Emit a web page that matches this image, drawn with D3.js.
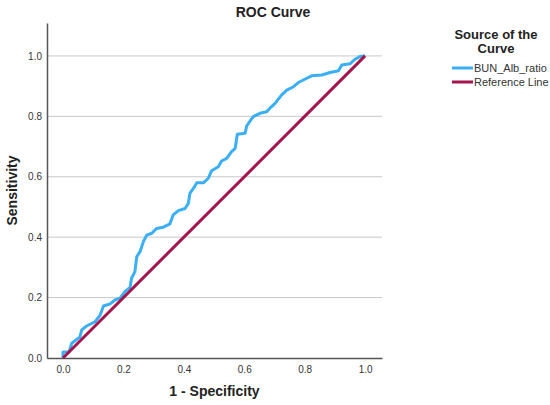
<!DOCTYPE html>
<html>
<head>
  <meta charset="utf-8">
  <title>ROC Curve</title>
  <script src="https://d3js.org/d3.v7.min.js"></script>
  <style>
    body { margin: 0; background: white; }
    svg { display: block; font-family: "Liberation Sans", Arial, sans-serif; }
    .tick text { fill: #333; font-size: 10px; }
  </style>
</head>
<body>
<div id="container"></div>
<script>
  // ROC points (1 - specificity, sensitivity)
  var fpr = [0, 0, 0.02, 0.029, 0.056, 0.062, 0.078, 0.106, 0.123, 0.134, 0.156, 0.172,
    0.189, 0.205, 0.222, 0.227, 0.238, 0.244, 0.255, 0.266, 0.277, 0.294, 0.31, 0.332,
    0.354, 0.365, 0.382, 0.404, 0.415, 0.42, 0.432, 0.443, 0.465, 0.481, 0.492, 0.514,
    0.525, 0.542, 0.558, 0.57, 0.577, 0.603, 0.608, 0.622, 0.63, 0.652, 0.674, 0.685,
    0.702, 0.724, 0.741, 0.763, 0.779, 0.807, 0.823, 0.857, 0.884, 0.912, 0.923, 0.95,
    0.967, 0.983, 0.995, 1];
  var tpr = [0, 0.02, 0.02, 0.049, 0.07, 0.093, 0.106, 0.12, 0.142, 0.172, 0.179, 0.192,
    0.198, 0.22, 0.234, 0.264, 0.286, 0.335, 0.352, 0.385, 0.407, 0.413, 0.429, 0.433,
    0.444, 0.474, 0.488, 0.495, 0.512, 0.545, 0.562, 0.58, 0.58, 0.595, 0.62, 0.633,
    0.652, 0.661, 0.683, 0.694, 0.741, 0.744, 0.768, 0.788, 0.799, 0.81, 0.815, 0.827,
    0.843, 0.871, 0.887, 0.898, 0.912, 0.926, 0.934, 0.937, 0.945, 0.951, 0.97, 0.974,
    0.989, 0.998, 1.0, 1.0];
  var refLine = [[0, 0], [1, 1]];
  var ticks = [0, 0.2, 0.4, 0.6, 0.8, 1.0];
  var legendNames = ["BUN_Alb_ratio", "Reference Line"];
  var legendColors = ["#3aaff5", "#a3154c"];

  var width = 550, height = 405;
  var plot = { left: 47, right: 382, top: 23, bottom: 358 };

  var svg = d3.select("#container").append("svg")
    .attr("width", width)
    .attr("height", height);

  var x = d3.scaleLinear()
    .domain([-0.053, 1.056])
    .range([plot.left, plot.right]);
  var y = d3.scaleLinear()
    .domain([0, 1.109])
    .range([plot.bottom, plot.top]);

  // grid lines
  svg.append("g")
    .selectAll("line")
    .data(ticks.filter(function(d) { return d > 0; }))
    .enter().append("line")
    .attr("x1", plot.left).attr("x2", plot.right)
    .attr("y1", function(d) { return y(d); })
    .attr("y2", function(d) { return y(d); })
    .attr("stroke", "#c8c8c8")
    .attr("stroke-width", 1);

  var xAxis = svg.append("g")
    .attr("transform", "translate(0," + plot.bottom + ")")
    .call(d3.axisBottom(x).tickValues(ticks).tickFormat(d3.format(".1f")).tickSize(0).tickPadding(8));
  xAxis.select(".domain").attr("stroke", "#555").attr("stroke-width", 1.5);

  var yAxis = svg.append("g")
    .attr("transform", "translate(" + plot.left + ",0)")
    .call(d3.axisLeft(y).tickValues(ticks).tickFormat(d3.format(".1f")).tickSize(0).tickPadding(5));
  yAxis.select(".domain").attr("stroke", "#555").attr("stroke-width", 1.5);

  var line = d3.line()
    .x(function(d) { return x(d[0]); })
    .y(function(d) { return y(d[1]); });

  svg.append("path")
    .datum(fpr.map(function(f, i) { return [f, tpr[i]]; }))
    .attr("d", line)
    .attr("fill", "none")
    .attr("stroke", legendColors[0])
    .attr("stroke-width", 3)
    .attr("stroke-linejoin", "round");

  svg.append("path")
    .datum(refLine)
    .attr("d", line)
    .attr("fill", "none")
    .attr("stroke", legendColors[1])
    .attr("stroke-width", 3);

  // titles
  svg.append("text")
    .attr("x", 273).attr("y", 17)
    .attr("text-anchor", "middle")
    .style("font-size", "14px").style("font-weight", "bold").attr("fill", "#222")
    .text("ROC Curve");

  svg.append("text")
    .attr("x", (plot.left + plot.right) / 2).attr("y", 396)
    .attr("text-anchor", "middle")
    .style("font-size", "14px").style("font-weight", "bold").attr("fill", "#222")
    .text("1 - Specificity");

  svg.append("text")
    .attr("transform", "translate(17," + (plot.top + plot.bottom) / 2 + ") rotate(-90)")
    .attr("text-anchor", "middle")
    .style("font-size", "14px").style("font-weight", "bold").attr("fill", "#222")
    .text("Sensitivity");

  // legend
  var legend = svg.append("g");
  legend.append("text")
    .attr("x", 496).attr("y", 39)
    .attr("text-anchor", "middle")
    .style("font-size", "13px").style("font-weight", "bold").attr("fill", "#222")
    .text("Source of the");
  legend.append("text")
    .attr("x", 496).attr("y", 53)
    .attr("text-anchor", "middle")
    .style("font-size", "13px").style("font-weight", "bold").attr("fill", "#222")
    .text("Curve");

  var items = legend.selectAll(".item")
    .data(legendNames)
    .enter().append("g")
    .attr("transform", function(d, i) { return "translate(0," + (68 + i * 14) + ")"; });
  items.append("line")
    .attr("x1", 452).attr("x2", 473)
    .attr("stroke", function(d, i) { return legendColors[i]; })
    .attr("stroke-width", 3);
  items.append("text")
    .attr("x", 474).attr("y", 4)
    .style("font-size", "11px").attr("fill", "#333")
    .text(function(d) { return d; });
</script>
</body>
</html>
